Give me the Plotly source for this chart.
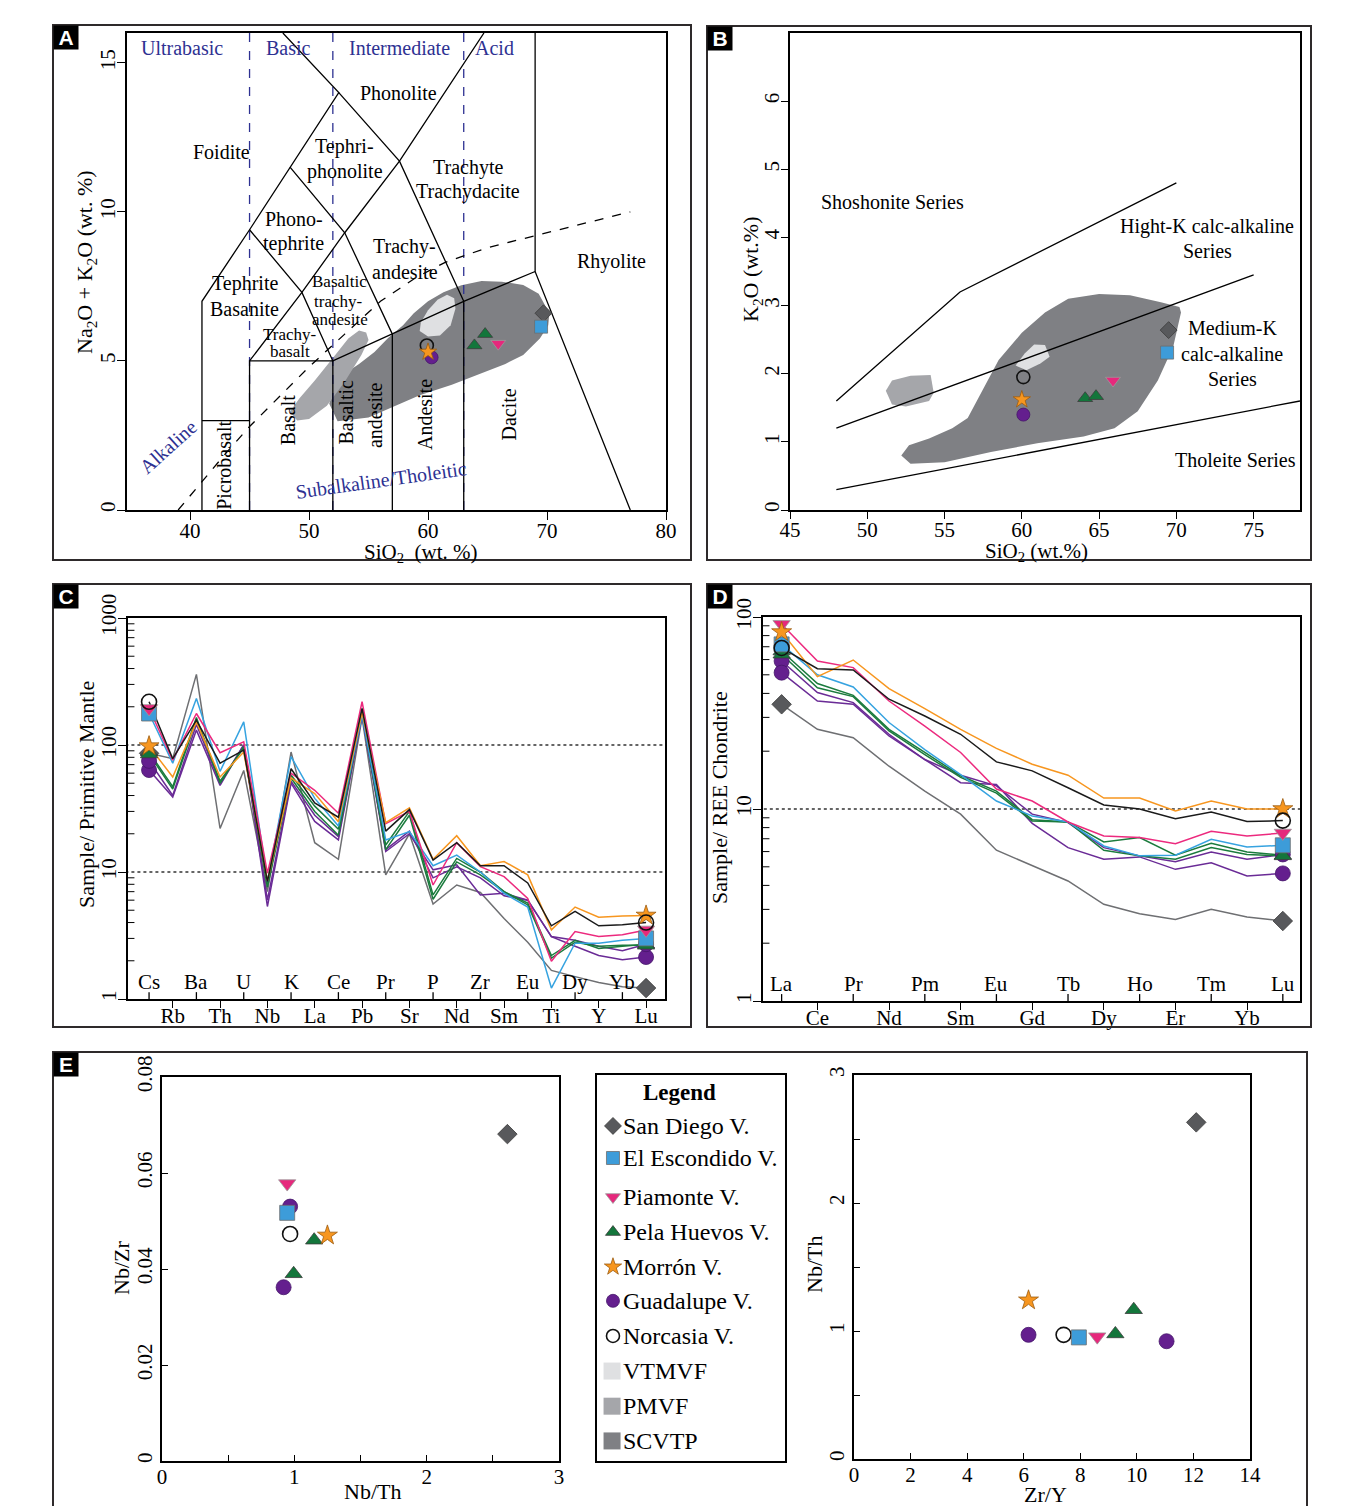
import plotly.graph_objects as go

W, H = 1356, 1506
SERIF = "Liberation Serif"
SANS = "Liberation Sans"

# ---------------------------------------------------------------- data
VOLCANOES = ["San Diego V.", "El Escondido V.", "Piamonte V.", "Pela Huevos V.",
             "Morrón V.", "Guadalupe V.", "Norcasia V."]
FIELDS = ["VTMVF", "PMVF", "SCVTP"]

# A: total alkali vs silica
tas_group = ["San Diego V.", "El Escondido V.", "Piamonte V.", "Pela Huevos V.", "Pela Huevos V.",
             "Norcasia V.", "Guadalupe V.", "Morrón V."]
tas_sio2 = [69.7, 69.5, 65.9, 63.9, 64.8, 59.9, 60.3, 60.0]
tas_alk = [6.6, 6.15, 5.58, 5.52, 5.9, 5.52, 5.12, 5.3]

# B: K2O vs silica
k_group = ["San Diego V.", "El Escondido V.", "Piamonte V.", "Pela Huevos V.", "Pela Huevos V.",
           "Norcasia V.", "Guadalupe V.", "Morrón V."]
k_sio2 = [69.5, 69.4, 65.9, 64.1, 64.8, 60.1, 60.1, 60.0]
k_k2o = [2.64, 2.31, 1.9, 1.64, 1.67, 1.95, 1.40, 1.62]

# C: primitive-mantle normalised multi-element patterns
pm_elements = ["Cs", "Rb", "Ba", "Th", "U", "Nb", "K", "La", "Ce", "Pb", "Pr",
               "Sr", "P", "Nd", "Zr", "Sm", "Eu", "Ti", "Dy", "Y", "Yb", "Lu"]
pm_group = ["San Diego V.", "Guadalupe V.", "Guadalupe V.", "Pela Huevos V.", "Pela Huevos V.",
            "El Escondido V.", "Piamonte V.", "Morrón V.", "Norcasia V."]
pm_san_diego = [86, 78, 360, 22, 63, 7.0, 88, 17, 12.6, 165, 9.5, 20, 5.6, 7.9, 6.9, 4.3, 2.8, 1.68, 1.5, 1.35, 1.25, 1.22]
pm_guadalupe_1 = [63.5, 39, 131, 48, 100, 5.35, 50, 25, 17.9, 170, 14.5, 20, 10.4, 11.4, 6.6, 6.8, 6.0, 3.1, 2.6, 2.2, 2.04, 2.14]
pm_guadalupe_2 = [75, 40, 145, 50, 100, 6.0, 52, 28, 19, 175, 15, 21, 9.0, 11, 9.0, 6.5, 6.0, 3.1, 2.9, 2.6, 2.4, 2.7]
pm_pela_huevos_1 = [88, 47, 165, 50, 97, 8.0, 58, 33, 21.7, 190, 16.3, 30, 6.6, 12.8, 10, 7.0, 5.7, 2.2, 2.9, 2.5, 2.6, 2.7]
pm_pela_huevos_2 = [85, 45, 158, 52, 95, 7.6, 55, 30, 19.5, 180, 15, 28, 6.1, 12, 9.5, 7.0, 5.5, 2.1, 2.8, 2.6, 2.65, 2.65]
pm_el_escondido = [177, 72, 232, 62, 152, 8.4, 81, 38, 23, 170, 17.9, 20.8, 11.2, 13.6, 10, 6.8, 5.3, 1.22, 2.75, 2.75, 2.9, 3.0]
pm_piamonte = [194, 76, 177, 87, 106, 9.8, 60, 44, 29, 219, 24, 30, 7.9, 17, 11, 9.2, 6.2, 1.98, 3.4, 3.1, 3.2, 3.5]
pm_morron = [98, 56, 152, 56, 88, 8.5, 55, 41.5, 24.9, 180, 24.5, 32, 12.6, 19.3, 11.2, 12.1, 9.5, 3.5, 5.3, 4.4, 4.5, 4.55]
pm_norcasia = [219, 78, 157, 72, 91, 8.4, 65, 35, 27, 194, 21, 31, 12.4, 17, 11.2, 11.2, 8.2, 3.77, 4.9, 3.77, 3.84, 4.0]

# D: chondrite normalised REE patterns
ree_elements = ["La", "Ce", "Pr", "Nd", "Pm", "Sm", "Eu", "Gd", "Tb", "Dy", "Ho", "Er", "Tm", "Yb", "Lu"]
ree_group = pm_group
ree_san_diego = [35.1, 26, 23.5, 16.7, 12.4, 9.4, 6.1, 5.05, 4.22, 3.19, 2.85, 2.66, 3.0, 2.74, 2.61]
ree_guadalupe_1 = [59, 40.4, 35.8, 24.5, 18.1, 15, 13.2, 9.4, 8.5, 6.29, 5.7, 5.32, 5.97, 5.47, 5.8]
ree_guadalupe_2 = [51.3, 36.5, 35.1, 24, 18.1, 13.7, 13.4, 8.42, 6.29, 5.47, 5.63, 4.85, 5.25, 4.48, 4.62]
ree_pela_huevos_1 = [66.5, 45, 39.1, 26, 19.7, 14.9, 12.4, 8.8, 8.56, 6.73, 7.1, 5.74, 6.63, 5.97, 5.74]
ree_pela_huevos_2 = [64, 42.8, 38.5, 25.5, 19.2, 14.6, 12.1, 8.65, 8.56, 6.1, 5.7, 5.47, 6.3, 5.8, 5.7]
ree_el_escondido = [72, 50, 43.2, 28.2, 20.4, 15.1, 11.0, 9.2, 8.56, 6.42, 5.7, 5.74, 6.95, 6.34, 6.47]
ree_piamonte = [91.6, 59, 54.5, 36.5, 27, 19.7, 12.7, 11.0, 8.56, 7.24, 7.1, 6.6, 7.65, 7.24, 7.5]
ree_morron = [83.5, 48.9, 59.7, 42.4, 33.3, 26, 20.7, 17.1, 15, 11.4, 11.4, 9.77, 11.0, 10, 10]
ree_norcasia = [69, 53.8, 53, 37.3, 30.5, 24.5, 17.6, 15.8, 12.9, 10.5, 10, 8.9, 9.65, 8.6, 8.7]

# E (left): Nb/Zr vs Nb/Th
e1_group = ["San Diego V.", "Piamonte V.", "Guadalupe V.", "El Escondido V.", "Norcasia V.",
            "Pela Huevos V.", "Morrón V.", "Pela Huevos V.", "Guadalupe V."]
e1_nbth = [2.61, 0.946, 0.968, 0.946, 0.968, 1.15, 1.25, 0.995, 0.919]
e1_nbzr = [0.0681, 0.0578, 0.053, 0.0517, 0.0473, 0.046, 0.047, 0.039, 0.0362]

# E (right): Nb/Th vs Zr/Y
e2_group = ["San Diego V.", "Morrón V.", "Guadalupe V.", "Norcasia V.", "El Escondido V.",
            "Piamonte V.", "Pela Huevos V.", "Pela Huevos V.", "Guadalupe V."]
e2_zry = [12.1, 6.17, 6.17, 7.41, 7.95, 8.6, 9.24, 9.89, 11.05]
e2_nbth = [2.63, 1.24, 0.97, 0.97, 0.95, 0.956, 0.977, 1.166, 0.92]

# outlines of the comparison fields (VTMVF, PMVF, SCVTP)
tas_scvtp_x = [51.7, 52.4, 55.0, 57.5, 59.3, 62.0, 64.5, 66.5, 68.0, 69.4, 70.1, 70.2, 69.3, 68.0, 66.2, 64.5, 62.8, 61.3, 60.0, 58.8, 57.9, 56.6, 55.5, 54.2, 53.1, 52.2, 51.7]
tas_scvtp_y = [3.56, 2.98, 3.1, 3.55, 3.85, 4.2, 4.6, 4.9, 5.2, 5.75, 6.2, 6.6, 7.25, 7.55, 7.66, 7.68, 7.54, 7.3, 7.0, 6.6, 6.2, 5.75, 5.3, 4.9, 4.6, 4.2, 3.56]
tas_pmvf_x = [48.4, 49.0, 50.0, 51.5, 53.0, 54.4, 55.0, 54.8, 54.2, 53.3, 52.0, 50.5, 49.2, 48.4]
tas_pmvf_y = [3.3, 3.0, 3.05, 3.5, 4.3, 5.2, 5.7, 5.95, 6.02, 5.75, 5.1, 4.35, 3.75, 3.3]
tas_vtmvf_x = [59.3, 60.0, 61.0, 61.9, 62.3, 62.2, 61.6, 60.8, 60.0, 59.4, 59.3]
tas_vtmvf_y = [6.0, 5.82, 5.85, 6.2, 6.75, 7.1, 7.22, 7.05, 6.7, 6.3, 6.0]

k_scvtp_x = [52.2, 52.8, 55.0, 58.0, 61.0, 64.0, 66.0, 67.5, 68.8, 69.8, 70.3, 70.2, 69.0, 67.0, 65.0, 63.0, 61.5, 60.0, 58.5, 57.3, 56.5, 55.5, 54.0, 52.7, 52.2]
k_scvtp_y = [0.8, 0.68, 0.7, 0.85, 0.98, 1.08, 1.2, 1.45, 1.9, 2.4, 2.9, 2.98, 3.05, 3.15, 3.17, 3.1, 2.9, 2.6, 2.2, 1.7, 1.35, 1.2, 1.05, 0.95, 0.8]
k_pmvf_x = [51.2, 51.6, 52.8, 54.1, 54.3, 54.0, 52.5, 51.6, 51.2]
k_pmvf_y = [1.75, 1.9, 1.97, 1.98, 1.72, 1.6, 1.52, 1.55, 1.75]
k_vtmvf_x = [59.6, 60.2, 60.8, 61.5, 61.8, 61.2, 60.3, 59.6]
k_vtmvf_y = [2.12, 2.3, 2.43, 2.42, 2.25, 2.15, 2.05, 2.12]

# classification boundaries
tas_fields = [
    [(41, 0), (41, 7), (45, 9.4), (48.4, 11.5), (52.5, 14), (47.8, 16)],
    [(41, 3), (45, 3)],
    [(45, 0), (45, 5), (52, 5)],
    [(45, 5), (49.4, 7.3), (53, 9.3), (57.6, 11.7), (64.7, 16)],
    [(45, 9.4), (49.4, 7.3), (52, 5), (57, 5.9), (63, 7), (69, 8), (77, 0)],
    [(48.4, 11.5), (53, 9.3), (57, 5.9)],
    [(52.5, 14), (57.6, 11.7), (63, 7)],
    [(52, 0), (52, 5)],
    [(57, 0), (57, 5.9)],
    [(63, 0), (63, 7)],
    [(69, 8), (69, 16)],
]
alkaline_divide = [(39, 0), (41, 0.95), (43, 1.9), (45, 2.8), (48, 4.0), (50, 4.8), (53, 5.9),
                   (56, 7.0), (59, 7.8), (61.4, 8.3), (65, 8.8), (70, 9.3), (77, 10)]
silica_classes = [45, 52, 63]
k_series = [
    [(48, 1.6), (56, 3.2), (70, 4.8)],
    [(48, 1.2), (75, 3.45)],
    [(48, 0.3), (78, 1.6)],
]

# ---------------------------------------------------------------- styles
STYLE = {
    "San Diego V.": dict(symbol="diamond", color="#58595c", line="#6e6f72", edge="#3a3a3a"),
    "El Escondido V.": dict(symbol="square", color="#3d9cd9", line="#36a3e0", edge="#6d6d6d"),
    "Piamonte V.": dict(symbol="triangle-down", color="#e6287c", line="#ec2a7e", edge="#9a9a9a"),
    "Pela Huevos V.": dict(symbol="triangle-up", color="#13763b", line="#1b7b3d", edge="#3c3c3c"),
    "Morrón V.": dict(symbol="star", color="#f7961f", line="#f7961f", edge="#9c5c10"),
    "Guadalupe V.": dict(symbol="circle", color="#641f8e", line="#6a2b96", edge="#45166a"),
    "Norcasia V.": dict(symbol="circle-open", color="#111111", line="#1a1a1a", edge="#111111"),
}
FIELD_COLORS = {"VTMVF": "#dfe0e2", "PMVF": "#a5a6aa", "SCVTP": "#7f8084"}
BLUE = "#2e3192"


def xdom(a, b):
    return [a / W, b / W]


def ydom(top, bottom):
    return [1 - bottom / H, 1 - top / H]


def marker(name, size):
    st = STYLE[name]
    if st["symbol"] == "circle-open":
        return dict(symbol="circle-open", size=size, color=st["color"], line=dict(width=1.6, color=st["color"]))
    return dict(symbol=st["symbol"], size=size, color=st["color"], line=dict(width=0.8, color=st["edge"]))


fig = go.Figure()


def pts(xs, ys, name, xa, ya, size):
    fig.add_trace(go.Scatter(x=xs, y=ys, mode="markers", marker=marker(name, size),
                             xaxis=xa, yaxis=ya, hoverinfo="skip", cliponaxis=False))


def poly(xs, ys, color, xa, ya):
    fig.add_trace(go.Scatter(x=xs, y=ys, mode="lines", fill="toself", fillcolor=color,
                             line=dict(width=0, color=color), xaxis=xa, yaxis=ya, hoverinfo="skip"))


def path(points, xa, ya, color="black", width=1.3, dash="solid"):
    fig.add_trace(go.Scatter(x=[p[0] for p in points], y=[p[1] for p in points], mode="lines",
                             line=dict(color=color, width=width, dash=dash),
                             xaxis=xa, yaxis=ya, hoverinfo="skip"))


annotations = []
shapes = []


def text(t, x, y, xref, yref, size=20, color="black", angle=0, family=SERIF, **kw):
    d = dict(text=t, x=x, y=y, xref=xref, yref=yref, showarrow=False, textangle=angle,
             font=dict(family=family, size=size, color=color))
    d.update(kw)
    annotations.append(d)


# ---------------------------------------------------------------- panel A (TAS)
poly(tas_scvtp_x, tas_scvtp_y, FIELD_COLORS["SCVTP"], "x", "y")
poly(tas_pmvf_x, tas_pmvf_y, FIELD_COLORS["PMVF"], "x", "y")
poly(tas_vtmvf_x, tas_vtmvf_y, FIELD_COLORS["VTMVF"], "x", "y")
for s in silica_classes:
    path([(s, 0), (s, 16)], "x", "y", color=BLUE, width=1.3, dash="dash")
for seg in tas_fields:
    path(seg, "x", "y")
path(alkaline_divide, "x", "y", width=1.3, dash="dash")
for g, sx, sy in zip(tas_group, tas_sio2, tas_alk):
    pts([sx], [sy], g, "x", "y", 13)

for t, x, y, sz in [("Foidite", 42.6, 12.0, 20), ("Phonolite", 57.5, 14.0, 20),
                    ("Tephri-", 53.0, 12.2, 20), ("phonolite", 53.0, 11.35, 20),
                    ("Trachyte", 63.4, 11.5, 20), ("Trachydacite", 63.4, 10.7, 20),
                    ("Phono-", 48.7, 9.75, 20), ("tephrite", 48.7, 8.95, 20),
                    ("Trachy-", 58.0, 8.85, 20), ("andesite", 58.1, 8.0, 20),
                    ("Tephrite", 44.6, 7.6, 20), ("Basanite", 44.6, 6.75, 20),
                    ("Basaltic", 52.6, 7.65, 17), ("trachy-", 52.4, 7.0, 17), ("andesite", 52.6, 6.4, 17),
                    ("Trachy-", 48.4, 5.9, 17), ("basalt", 48.4, 5.3, 17),
                    ("Rhyolite", 75.4, 8.35, 20)]:
    text(t, x, y, "x", "y", size=sz)
for t, x, y in [("Picrobasalt", 42.9, 1.5), ("Basalt", 48.2, 3.0), ("Basaltic", 53.1, 3.3),
                ("andesite", 55.5, 3.2), ("Andesite", 59.7, 3.2), ("Dacite", 66.8, 3.2)]:
    text(t, x, y, "x", "y", size=20, angle=-90)
for t, x in [("Ultrabasic", 39.3), ("Basic", 48.3), ("Intermediate", 57.6), ("Acid", 65.6)]:
    text(t, x, 15.5, "x", "y", size=20, color=BLUE)
text("Alkaline", 38.15, 2.1, "x", "y", size=20, color=BLUE, angle=-42)
text("Subalkaline/Tholeitic", 56.05, 1.0, "x", "y", size=20, color=BLUE, angle=-8)

# ---------------------------------------------------------------- panel B (K2O)
poly(k_scvtp_x, k_scvtp_y, FIELD_COLORS["SCVTP"], "x2", "y2")
poly(k_pmvf_x, k_pmvf_y, FIELD_COLORS["PMVF"], "x2", "y2")
poly(k_vtmvf_x, k_vtmvf_y, FIELD_COLORS["VTMVF"], "x2", "y2")
for seg in k_series:
    path(seg, "x2", "y2")
for g, sx, sy in zip(k_group, k_sio2, k_k2o):
    pts([sx], [sy], g, "x2", "y2", 13)
for t, x, y in [("Shoshonite Series", 51.6, 4.52), ("Hight-K calc-alkaline", 72.0, 4.16),
                ("Series", 72.0, 3.8), ("Medium-K", 73.6, 2.67), ("calc-alkaline", 73.6, 2.29),
                ("Series", 73.6, 1.92), ("Tholeite Series", 73.8, 0.73)]:
    text(t, x, y, "x2", "y2", size=20)

# ---------------------------------------------------------------- panels C and D (spider diagrams)
pm_series = [pm_san_diego, pm_guadalupe_1, pm_guadalupe_2, pm_pela_huevos_1, pm_pela_huevos_2,
             pm_el_escondido, pm_piamonte, pm_morron, pm_norcasia]
ree_series = [ree_san_diego, ree_guadalupe_1, ree_guadalupe_2, ree_pela_huevos_1, ree_pela_huevos_2,
              ree_el_escondido, ree_piamonte, ree_morron, ree_norcasia]

for xa, ya, cats, series, groups, decades in [("x3", "y3", pm_elements, pm_series, pm_group, 3),
                                              ("x4", "y4", ree_elements, ree_series, ree_group, 2)]:
    idx = list(range(len(cats)))
    path([(idx[0] - 1, 10), (idx[-1] + 1, 10)], xa, ya, color="#333333", width=1.4, dash="dot")
    if xa == "x3":
        path([(idx[0] - 1, 100), (idx[-1] + 1, 100)], xa, ya, color="#333333", width=1.4, dash="dot")
    for vals, g in zip(series, groups):
        fig.add_trace(go.Scatter(x=idx, y=vals, mode="lines", line=dict(color=STYLE[g]["line"], width=1.5),
                                 xaxis=xa, yaxis=ya, hoverinfo="skip"))
    for vals, g in zip(series, groups):
        pts([idx[0], idx[-1]], [vals[0], vals[-1]], g, xa, ya, 15)
    # alternating element labels: even positions inside the frame, odd ones below the axis
    for i, c in enumerate(cats):
        if i % 2 == 0:
            text(c, i, 0, xa, ya + " domain", size=21, xanchor="center", yanchor="bottom", yshift=3)
            shapes.append(dict(type="line", xref=xa, yref=ya + " domain", x0=i, x1=i, y0=0, y1=0.018,
                               line=dict(color="black", width=1.3)))
    # minor log ticks on the inner side of the value axis
    for d in range(decades):
        for k in range(2, 10):
            v = k * 10 ** d
            shapes.append(dict(type="line", xref=xa + " domain", yref=ya, x0=0, x1=0.012, y0=v, y1=v,
                               line=dict(color="black", width=1)))

# ---------------------------------------------------------------- panel E
for g, a, b in zip(e1_group, e1_nbth, e1_nbzr):
    pts([a], [b], g, "x5", "y5", 15)
for g, a, b in zip(e2_group, e2_zry, e2_nbth):
    pts([a], [b], g, "x6", "y6", 15)

# legend box content
legend_rows = [0.868, 0.785, 0.684, 0.593, 0.503, 0.415, 0.324, 0.233, 0.142, 0.052]
for name, yy in zip(VOLCANOES, legend_rows[:7]):
    pts([0.085], [yy], name, "x7", "y7", 13)
    text(name, 0.13, yy, "x7", "y7", size=24, xanchor="left")
for name, yy in zip(FIELDS, legend_rows[7:]):
    fig.add_trace(go.Scatter(x=[0.08], y=[yy], mode="markers",
                             marker=dict(symbol="square", size=17, color=FIELD_COLORS[name], line=dict(width=0)),
                             xaxis="x7", yaxis="y7", hoverinfo="skip"))
    text(name, 0.13, yy, "x7", "y7", size=24, xanchor="left")
text("<b>Legend</b>", 0.44, 0.955, "x7", "y7", size=23)

# ---------------------------------------------------------------- axes
TICKFONT = dict(family=SERIF, size=21, color="black")
HALF_TICKS = dict(dtick=0.5, tick0=0, ticks="inside", ticklen=6, tickwidth=1.3, tickcolor="black", showgrid=False)


def axis(domain, rng, anchor, **kw):
    d = dict(domain=domain, range=rng, anchor=anchor, showline=True, linecolor="black", linewidth=1.6,
             mirror=True, showgrid=False, zeroline=False, ticks="outside", ticklen=7, tickwidth=1.3,
             tickcolor="black", tickfont=TICKFONT, automargin=False)
    d.update(kw)
    return d


layout = dict(
    width=W, height=H, margin=dict(l=0, r=0, t=0, b=0, pad=0, autoexpand=False), showlegend=False,
    paper_bgcolor="white", plot_bgcolor="white",
    xaxis=axis(xdom(127, 666), [34.7, 80], "y", tickvals=[40, 50, 60, 70, 80], ticklen=8,
               ticklabelstandoff=-7),
    yaxis=axis(ydom(33, 510), [0, 16], "x", tickvals=[0, 5, 10, 15], tickangle=-90, ticklen=8,
               ticklabelstandoff=-6),
    xaxis2=axis(xdom(790, 1300), [45, 78], "y2", tickvals=[45, 50, 55, 60, 65, 70, 75],
                ticklabelstandoff=-7),
    yaxis2=axis(ydom(33, 510), [0, 7], "x2", tickvals=[0, 1, 2, 3, 4, 5, 6], tickangle=-90,
                ticklabelstandoff=-6),
    xaxis3=axis(xdom(128, 665), [-0.89, 21.8], "y3", tickvals=list(range(1, 22, 2)),
                ticktext=pm_elements[1::2], ticklabelstandoff=-10),
    yaxis3=axis(ydom(618, 999), [0, 3], "x3", type="log", tickvals=[1, 10, 100, 1000], tickangle=-90,
                ticklen=8, ticklabelstandoff=-6),
    xaxis4=axis(xdom(763, 1300), [-0.52, 14.48], "y4", tickvals=list(range(1, 15, 2)),
                ticktext=ree_elements[1::2], ticklabelstandoff=-10),
    yaxis4=axis(ydom(617, 1001), [0, 2], "x4", type="log", tickvals=[1, 10, 100], tickangle=-90,
                ticklen=8, ticklabelstandoff=-6),
    xaxis5=axis(xdom(162, 559), [0, 3], "y5", tickvals=[0, 1, 2, 3], ticks="inside", ticklen=6,
                ticklabelstandoff=-4, minor=HALF_TICKS),
    yaxis5=axis(ydom(1077, 1461), [0, 0.08], "x5", tickvals=[0, 0.02, 0.04, 0.06, 0.08],
                ticktext=["0", "0.02", "0.04", "0.06", "0.08"], tickangle=-90, ticks="inside", ticklen=6),
    xaxis6=axis(xdom(854, 1250), [0, 14], "y6", tickvals=list(range(0, 15, 2)), ticks="inside", ticklen=6,
                ticklabelstandoff=-4),
    yaxis6=axis(ydom(1075, 1459), [0, 3], "x6", tickvals=[0, 1, 2, 3], tickangle=-90, ticks="inside",
                ticklen=6, minor=HALF_TICKS),
    xaxis7=axis(xdom(597, 785), [0, 1], "y7", ticks="", showticklabels=False),
    yaxis7=axis(ydom(1075, 1461), [0, 1], "x7", ticks="", showticklabels=False),
)


# axis titles, centred on the given page position
def ptext(t, px, py, size=22, angle=0, **kw):
    text(t, px / W, 1 - py / H, "paper", "paper", size=size, angle=angle,
         xanchor="center", yanchor="middle", **kw)


ptext("Na<sub>2</sub>O + K<sub>2</sub>O (wt. %)", 86, 262, angle=-90)
ptext("SiO<sub>2</sub>  (wt. %)", 421, 553, size=21)
ptext("K<sub>2</sub>O (wt.%)", 752, 270, angle=-90)
ptext("SiO<sub>2</sub> (wt.%)", 1036, 552, size=21)
ptext("Sample/ Primitive Mantle", 86, 795, angle=-90)
ptext("Sample/ REE Chondrite", 719, 797, angle=-90)
ptext("Nb/Zr", 121, 1268, angle=-90)
ptext("Nb/Th", 372, 1491)
ptext("Nb/Th", 814, 1265, angle=-90)
ptext("Zr/Y", 1045, 1494)

# panel frames and letter tabs
for letter, (x0, y0, x1, y1) in {"A": (53, 25, 691, 560), "B": (707, 26, 1311, 560),
                                 "C": (53, 584, 691, 1027), "D": (707, 584, 1311, 1027),
                                 "E": (53, 1052, 1307, 1512)}.items():
    shapes.append(dict(type="rect", xref="paper", yref="paper", x0=x0 / W, x1=x1 / W,
                       y0=1 - y1 / H, y1=1 - y0 / H, line=dict(color="#2e2a2b", width=2)))
    annotations.append(dict(text=f"<b>{letter}</b>", xref="paper", yref="paper",
                            x=x0 / W, y=1 - y0 / H, xanchor="left", yanchor="top",
                            showarrow=False, bgcolor="black", width=24, height=23, borderpad=0,
                            font=dict(family=SANS, size=21, color="white")))

layout["annotations"] = annotations
layout["shapes"] = shapes
fig.update_layout(**layout)
fig.write_html("out.html")
